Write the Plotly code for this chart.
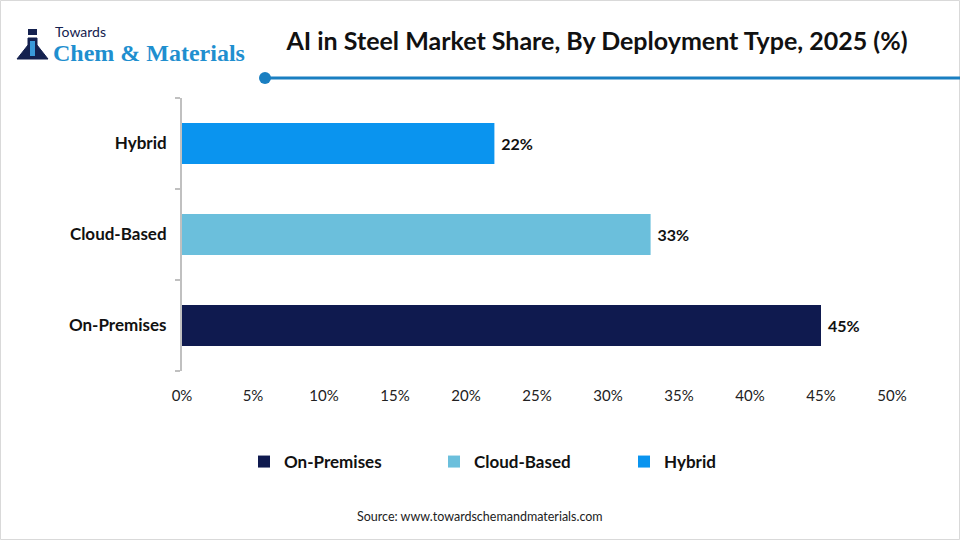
import plotly.graph_objects as go

categories = ["On-Premises", "Cloud-Based", "Hybrid"]
values = [45, 33, 22]
colors = ["#0f1a4f", "#6bbfdc", "#0a94ef"]
tick_vals = [0, 5, 10, 15, 20, 25, 30, 35, 40, 45, 50]
tick_text = [f"{v}%" for v in tick_vals]

W, H = 960, 540
L, R, T, B = 182, 68, 98, 169
PW, PH = W - L - R, H - T - B

def px(x):
    return (x - L) / PW

def py(y):
    return (H - B - y) / PH

fig = go.Figure()
for cat, val, col in zip(categories, values, colors):
    fig.add_trace(go.Bar(
        x=[val], y=[cat], orientation="h", name=cat,
        marker=dict(color=col, line=dict(width=0)),
        text=[f"\u00a0{val}%"], textposition="outside",
        textfont=dict(family="Lato", size=16, color="#111111", weight="bold"),
        cliponaxis=False,
    ))

fig.update_layout(
    width=W, height=H,
    margin=dict(l=L, r=R, t=T, b=B),
    paper_bgcolor="white", plot_bgcolor="white",
    barmode="overlay", bargap=0.55,
    showlegend=True,
    legend=dict(
        orientation="h", x=px(244), y=py(462), xanchor="left", yanchor="middle",
        font=dict(family="Lato", size=17, color="#111111", weight="bold"),
        entrywidth=145, entrywidthmode="pixels",
        itemwidth=30, traceorder="normal",
    ),
    title=dict(
        text="AI in Steel Market Share, By Deployment Type, 2025 (%)",
        x=597 / W, xanchor="center", y=1 - 41 / H, yanchor="middle",
        font=dict(family="Lato", size=25, color="#111111", weight="bold"),
    ),
    xaxis=dict(
        range=[0, 50], tickvals=tick_vals, ticktext=tick_text,
        showgrid=False, zeroline=False, showline=False, ticks="",
        tickfont=dict(family="Lato", size=15, color="#222222"),
        ticklabelstandoff=14, fixedrange=True,
    ),
    yaxis=dict(
        categoryorder="array", categoryarray=categories,
        range=[-0.5, 2.5],
        showline=True, linecolor="#c0c0c0", linewidth=2,
        ticks="outside", ticklen=5, tickcolor="#c0c0c0", tickwidth=2,
        tickson="boundaries",
        tickfont=dict(family="Lato", size=17, color="#111111", weight="bold"),
        ticklabelstandoff=10, showgrid=False, zeroline=False,
    ),
)

shapes = []
# outer border
shapes.append(dict(type="rect", xref="paper", yref="paper",
                   x0=px(0.5), x1=px(W - 0.5), y0=py(H - 0.5), y1=py(0.5),
                   line=dict(color="#d9d9d9", width=1), fillcolor="rgba(0,0,0,0)", layer="below"))
# title underline
shapes.append(dict(type="line", xref="paper", yref="paper",
                   x0=px(265), x1=px(W), y0=py(78), y1=py(78),
                   line=dict(color="#1a7fc1", width=3)))
shapes.append(dict(type="circle", xref="paper", yref="paper",
                   x0=px(259), x1=px(271), y0=py(84), y1=py(72),
                   line=dict(color="#1a7fc1", width=0), fillcolor="#1a7fc1"))
# logo flask (simplified)
shapes.append(dict(type="path", xref="paper", yref="paper",
                   path=(f"M {px(28)},{py(38)} L {px(37)},{py(38)} L {px(37)},{py(45)} "
                         f"L {px(48)},{py(59)} L {px(17)},{py(59)} L {px(28)},{py(45)} Z"),
                   line=dict(color="#14214f", width=1), fillcolor="#14214f"))
shapes.append(dict(type="rect", xref="paper", yref="paper",
                   x0=px(28), x1=px(37), y0=py(35), y1=py(29),
                   line=dict(width=0), fillcolor="#14214f"))
shapes.append(dict(type="rect", xref="paper", yref="paper",
                   x0=px(30), x1=px(35), y0=py(56), y1=py(41),
                   line=dict(width=0), fillcolor="#3a9ad9"))
fig.update_layout(shapes=shapes)

annotations = [
    dict(text="Towards", x=px(53), y=py(32), xanchor="left", yanchor="middle",
         font=dict(family="Lato", size=14, color="#14214f")),
    dict(text="Chem &amp; Materials", x=px(51), y=py(53), xanchor="left", yanchor="middle",
         font=dict(family="Liberation Serif", size=24, color="#1f8fcf", weight="bold")),
    dict(text="Source: www.towardschemandmaterials.com", x=px(480), y=py(516),
         xanchor="center", yanchor="middle",
         font=dict(family="Lato", size=12.5, color="#222222")),
]
for a in annotations:
    a.update(xref="paper", yref="paper", showarrow=False)
fig.update_layout(annotations=annotations)

fig.write_html("out.html")
